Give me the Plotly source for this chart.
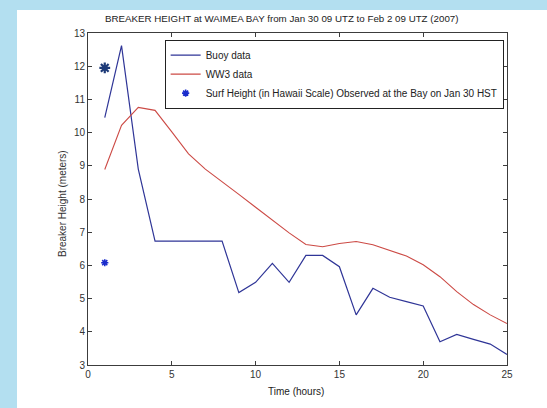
import plotly.graph_objects as go

# Hourly breaker heights (meters), Waimea Bay, Jan 30 09 UTZ to Feb 2 09 UTZ 2007
hours = list(range(1, 26))
buoy = [10.45, 12.62, 8.9, 6.73, 6.73, 6.73, 6.73, 6.73, 5.18, 5.49, 6.06, 5.49,
        6.3, 6.3, 5.96, 4.51, 5.31, 5.04, 4.91, 4.78, 3.7, 3.92, 3.77, 3.63, 3.32]
ww3 = [8.89, 10.22, 10.76, 10.67, 10.02, 9.36, 8.9, 8.53, 8.14, 7.75, 7.36, 6.98,
       6.63, 6.56, 6.66, 6.72, 6.62, 6.46, 6.28, 6.02, 5.66, 5.21, 4.82, 4.51, 4.25]
surf_obs_hour = [1]
surf_obs_height = [6.08]
surf_big_hour = [1]
surf_big_height = [11.95]

x_ticks = [0, 5, 10, 15, 20, 25]
y_ticks = list(range(3, 14))

FONT = "Liberation Sans, Arial, sans-serif"
W, H = 547, 408
L, R, T, B = 88, 507, 33, 365

fig = go.Figure()
fig.add_trace(go.Scatter(x=hours, y=buoy, mode="lines", name="Buoy data",
                         line=dict(color="#2f3597", width=1.2)))
fig.add_trace(go.Scatter(x=hours, y=ww3, mode="lines", name="WW3 data",
                         line=dict(color="#cc4a45", width=1.1)))
fig.add_trace(go.Scatter(x=surf_obs_hour, y=surf_obs_height, mode="markers",
                         name="Surf Height (in Hawaii Scale) Observed at the Bay on Jan 30 HST",
                         marker=dict(symbol="asterisk-open", size=6, color="#1a2ccc",
                                     line=dict(color="#1a2ccc", width=1.6))))
fig.add_trace(go.Scatter(x=surf_big_hour, y=surf_big_height, mode="markers",
                         showlegend=False,
                         marker=dict(symbol="asterisk-open", size=9, color="#1d3a78",
                                     line=dict(color="#1d3a78", width=2.2))))

axis_common = dict(
    showgrid=False, zeroline=False, showline=True, linecolor="#3c3c3c",
    linewidth=1, mirror="ticks", ticks="inside", ticklen=4, tickcolor="#3c3c3c",
    tickfont=dict(family=FONT, size=10, color="#333333"),
)

fig.update_layout(
    width=W, height=H,
    margin=dict(l=L, r=W - R, t=T, b=H - B, pad=0),
    paper_bgcolor="#b3dff0",
    plot_bgcolor="white",
    showlegend=True,
    legend=dict(x=0.992, xanchor="right", y=0.98, yanchor="top",
                bgcolor="white", bordercolor="#222222", borderwidth=1,
                font=dict(family=FONT, size=10, color="#222222"),
                tracegroupgap=0, itemwidth=30),
    xaxis=dict(range=[0, 25], tickvals=x_ticks, **axis_common),
    yaxis=dict(range=[3, 13], tickvals=y_ticks, **axis_common),
    shapes=[dict(type="rect", xref="paper", yref="paper", layer="below",
                 x0=(17 - L) / (R - L), x1=(W - L) / (R - L) + 0.01,
                 y0=(B - H) / (B - T) - 0.01, y1=(B - 10) / (B - T),
                 fillcolor="white", line=dict(width=0))],
    annotations=[
        dict(text="BREAKER HEIGHT at WAIMEA BAY from Jan 30 09 UTZ to Feb 2 09 UTZ (2007)",
             xref="paper", yref="paper", x=(281 - L) / (R - L), y=(B - 19) / (B - T),
             xanchor="center", yanchor="middle", showarrow=False,
             font=dict(family=FONT, size=9.75, color="#222222")),
        dict(text="Time (hours)", xref="paper", yref="paper",
             x=(296 - L) / (R - L), y=(B - 392) / (B - T),
             xanchor="center", yanchor="middle", showarrow=False,
             font=dict(family=FONT, size=10, color="#222222")),
        dict(text="Breaker Height (meters)", xref="paper", yref="paper",
             x=(62 - L) / (R - L), y=(B - 204) / (B - T), textangle=-90,
             xanchor="center", yanchor="middle", showarrow=False,
             font=dict(family=FONT, size=10, color="#333333")),
    ],
)

fig.write_html("out.html")
